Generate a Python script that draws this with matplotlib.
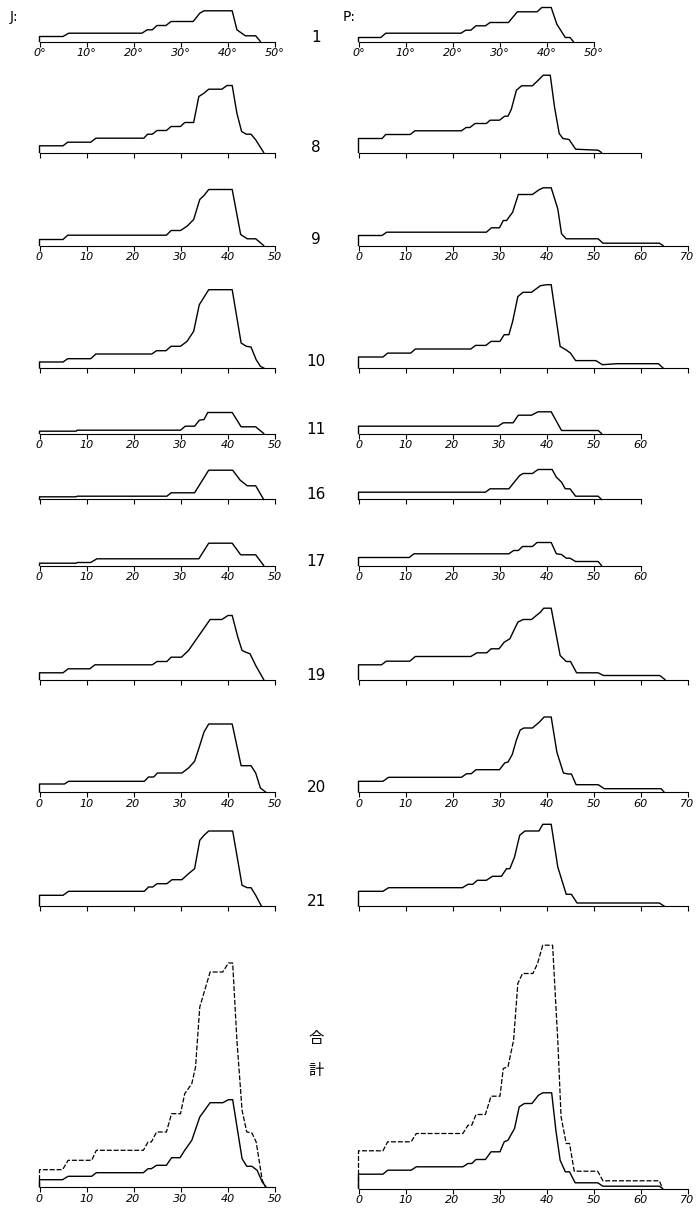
import numpy as np
import matplotlib
matplotlib.use("Agg")
import matplotlib.pyplot as plt

plt.rcParams['font.family'] = ['DejaVu Sans', 'Noto Sans CJK JP']

# ---- data: positions in degrees, heights in relative units ----
j1_x = [0, 5, 6.2, 21.8, 22.9, 24, 25, 26.9, 28, 32.7, 34.1, 35, 41, 42, 43.8, 46, 47]
j1_y = [5, 5, 8.3, 8.3, 11.7, 11.7, 16, 16, 20, 20, 28.3, 30.7, 30.7, 11.7, 5.7, 5.7, 0]
p1_x = [0, 4.75, 5.8, 21.8, 22.8, 23.9, 25, 27, 28, 31.9, 33.8, 38, 39, 41, 42.2, 44, 45, 45.7]
p1_y = [4, 4, 8.3, 8.3, 11.3, 11.3, 15.7, 15.7, 19, 19, 29.7, 29.7, 34, 34, 17.3, 4, 4, 0]

j8_x = [0, 5, 6, 10.9, 12, 22.2, 23, 24, 25, 27, 28, 30, 30.9, 32.8, 33.9, 35, 36, 38.8, 39.9, 41,
        42, 43, 44, 45, 46, 47.7]
j8_y = [6.7, 6.7, 10.3, 10.3, 14.3, 14.3, 18.3, 18.3, 22, 22, 26, 26, 30, 30, 56, 59.3, 63.3, 63.3,
        67, 67, 39.3, 21, 18.3, 18.3, 12.7, 0]
p8_x = [0, 5, 5.8, 11, 12, 21.9, 22.9, 23.7, 24.8, 27.2, 28, 30, 31.1, 31.8, 32.5, 33.6, 34.7, 37,
        38.4, 39.3, 40.8, 41.7, 42.7, 43.5, 44.8, 46.2, 51, 51.7]
p8_y = [14, 14, 18, 18, 21.7, 21.7, 25, 25, 29, 29, 32.3, 32.3, 36.3, 36.3, 43, 62.3, 66.7, 66.7,
        73, 77.3, 77.3, 45.7, 19, 14, 13, 3.3, 2.3, 0]

j9_x = [0, 5, 6, 27, 28, 30, 31.4, 32.8, 34.1, 35, 36, 41, 42.8, 44.2, 46, 47.7]
j9_y = [6, 6, 10.3, 10.3, 15, 15, 19.3, 26, 46, 50, 56, 56, 11, 6.7, 6.7, 0]
p9_x = [0, 5, 6, 27.2, 28.3, 30, 30.8, 31.5, 32.8, 34, 37, 38.4, 39.3, 41, 42.4, 43.2, 44.2, 51,
        52, 64, 64.8]
p9_y = [10, 10, 13.3, 13.3, 17.7, 17.7, 25, 25, 33.3, 51, 51, 55.7, 57.7, 57.7, 36.7, 11.7, 6.7,
        6.7, 2.3, 2.3, 0]

j10_x = [0, 5, 6, 10.9, 12, 23.9, 24.9, 26.9, 28, 30, 31.4, 32.8, 34, 34.9, 36, 41, 42.9, 44, 45,
         46.1, 47, 47.7]
j10_y = [6, 6, 9.3, 9.3, 14, 14, 17.3, 17.3, 21.7, 21.7, 26.7, 36.7, 63.3, 70, 78.3, 78.3, 25,
         21.7, 21, 8.3, 1.7, 0]
p10_x = [0, 5.2, 6.2, 11.1, 12.1, 23.9, 24.9, 27.1, 28.2, 30.1, 31, 32, 32.8, 33.9, 35, 36.8,
         38.7, 40.1, 41, 42.9, 44.1, 45.1, 46.2, 50.5, 51.9, 55, 63.8, 64.8]
p10_y = [11, 11, 14.9, 14.9, 19, 19, 22.6, 22.6, 26.6, 26.6, 33.3, 33.3, 46.6, 71.4, 75.7,
         75.7, 82.3, 83.3, 83.3, 21.6, 18.3, 14.9, 7.4, 7.4, 3.3, 4.3, 4.3, 0]

j11_x = [0, 7.8, 8, 30, 31, 33, 34, 35, 35.8, 41, 42.9, 46, 47.7]
j11_y = [2.3, 2.3, 3.3, 3.3, 7.3, 7.3, 13.3, 14, 21, 21, 6.7, 6.7, 0]
p11_x = [0, 29.7, 30.8, 32.9, 34, 36.8, 38.2, 41, 43.2, 51, 51.7]
p11_y = [7.3, 7.3, 10.7, 10.7, 18.3, 18.3, 21.7, 21.7, 3, 3, 0]

j16_x = [0, 7.8, 8, 27.1, 28, 33, 36, 41.1, 42.7, 44.2, 46, 47.7]
j16_y = [2.7, 2.7, 3.3, 3.3, 6.7, 6.7, 29.3, 29.3, 19.3, 13.7, 13.7, 0]
p16_x = [0, 27, 28, 32, 33.3, 34.3, 35, 37, 38.2, 41.2, 42.1, 43.2, 44, 45, 46.2, 51, 51.7]
p16_y = [7.3, 7.3, 10.7, 10.7, 18.3, 24, 26, 26, 30, 30, 22.3, 17.3, 10.7, 10.7, 3.3, 3.3, 0]

j17_x = [0, 7.8, 8, 10.9, 12.2, 33.9, 36, 41, 42.8, 46, 47.7]
j17_y = [2.3, 2.3, 3, 3, 6.7, 6.7, 22.3, 22.3, 10.7, 10.7, 0]
p17_x = [0, 10.8, 11.8, 32, 33, 34, 34.9, 37, 38, 41, 42.1, 43.2, 44.2, 45, 46.2, 51, 51.7]
p17_y = [8, 8, 11.7, 11.7, 15, 15, 19, 19, 23, 23, 11.7, 11, 7.3, 7.3, 4, 4, 0]

j19_x = [0, 5, 6.1, 10.7, 11.8, 24, 25, 27.1, 28, 30.2, 31.7, 36.3, 38.8, 40.1, 41, 42.2, 43.1,
         43.9, 44.8, 46, 47.7]
j19_y = [6.7, 6.7, 10.7, 10.7, 14.7, 14.7, 18, 18, 22.3, 22.3, 29, 60, 60, 64, 64, 42.3, 29, 27.3,
         25.7, 14, 0]
p19_x = [0, 4.9, 5.9, 10.9, 12.1, 23.9, 25.2, 27.3, 28.2, 29.9, 31, 32.2, 33.9, 35, 36.8, 38.7,
         39.4, 41, 42.9, 44.2, 45.1, 46.4, 51, 52.1, 64.1, 65.2]
p19_y = [14.7, 14.7, 18.3, 18.3, 23, 23, 26.7, 26.7, 30.7, 30.7, 37.3, 40.7, 57.3, 60, 60, 67.3,
         71.3, 71.3, 24, 18, 18, 6.7, 6.7, 4, 4, 0]

j20_x = [0, 5.3, 6.2, 22.3, 23.2, 24.3, 25.1, 30.3, 31.7, 33, 34, 35, 36, 41, 42.9, 45, 46, 47, 48.1]
j20_y = [8, 8, 10.7, 10.7, 15, 15, 19, 19, 24, 30.7, 45, 60, 68, 68, 26.3, 26.3, 19, 4, 0]
p20_x = [0, 5.2, 6.4, 21.9, 23, 24, 25, 30, 31.1, 31.8, 32.7, 33.6, 34.4, 35.2, 37, 38.5, 39.5, 41,
         42.2, 43.6, 44.6, 45.3, 46.3, 51, 52.3, 64.4, 65]
p20_y = [10.7, 10.7, 14.7, 14.7, 18.3, 18.3, 22.3, 22.3, 29, 30, 37.3, 52, 62, 64, 64, 70, 75, 75,
         40, 19, 18, 18, 7.3, 7.3, 3.3, 3.3, 0]

j21_x = [0, 5, 6.2, 22.3, 23.2, 24.1, 25, 27.1, 28.2, 30.3, 31.7, 33, 34.1, 35, 36, 41.1, 43.1,
         44.2, 45, 46, 47.2]
j21_y = [10.7, 10.7, 14.7, 14.7, 19, 19, 22.3, 22.3, 26.3, 26.3, 32.3, 37.3, 65.7, 70.7, 75, 75,
         20.7, 18.3, 18.3, 10.7, 0]
p21_x = [0, 5.2, 6.4, 22.1, 23.3, 24.3, 25.3, 27.2, 28.5, 30.4, 31.5, 32.2, 33.2, 34.3, 35.4,
         38.4, 39.2, 41, 42.4, 43.5, 44.2, 45.3, 46.5, 55.2, 64, 65]
p21_y = [14.7, 14.7, 18.3, 18.3, 21.7, 21.7, 25.7, 25.7, 29.7, 29.7, 37.3, 37.3, 49, 70.7, 75, 75,
         81.7, 81.7, 39, 22.3, 11.7, 11.7, 3, 3, 3, 0]

# 合計 (totals): dashed and solid curves
jt_dash_x = [0, 4.9, 6.1, 11.1, 12.1, 22.1, 23.1, 23.8, 24.9, 27, 28.1, 30, 30.9, 32.4, 33.2, 34.1,
             36.3, 39, 40.2, 41.1, 42, 43.1, 44.1, 45.2, 46.1, 47.4, 48.1]
jt_dash_y = [17.3, 17.3, 26.7, 26.7, 36.7, 36.7, 45, 45, 55, 55, 73.3, 73.3, 93.3, 103.3, 120, 180,
             215, 215, 224, 224, 146.7, 76.7, 55, 54, 45, 6.7, 0]
jt_solid_x = [0, 4.9, 6.1, 11.1, 12.1, 22.1, 23.1, 23.8, 24.9, 27, 28.1, 29.9, 30.9, 32.4, 34.1,
              36.3, 39, 40.2, 41.1, 43.1, 44.1, 45.2, 46.3, 47.4, 48.2]
jt_solid_y = [7.3, 7.3, 10.7, 10.7, 14.3, 14.3, 18.3, 18.3, 21.7, 21.7, 29.3, 29.3, 36.7, 46.7, 70,
              84.3, 84.3, 87.3, 87.3, 28.3, 20.7, 20.7, 16.7, 5, 0]
pt_dash_x = [0, 5.2, 6.2, 11.2, 12.3, 22.2, 23.3, 24.1, 25, 27, 28.2, 30.1, 30.8, 31.8, 33, 33.9,
             34.9, 37.1, 38.1, 39.2, 41.3, 42.4, 43.1, 44.2, 44.9, 45.9, 50.9, 52, 64, 64.7]
pt_dash_y = [37.7, 37.7, 46.7, 46.7, 55, 55, 63.3, 63.3, 74, 74, 92.3, 92.3, 120, 121.7, 148.3, 205,
             215, 215, 225, 243.3, 243.3, 148, 71.7, 45, 45, 17.3, 17.3, 7.7, 7.7, 0]
pt_solid_x = [0, 5.2, 6.2, 11.2, 12.3, 22.2, 23.3, 24.1, 25, 27, 28.2, 30.1, 31, 31.8, 33.2, 34.2,
              35.3, 36.9, 38.3, 39.2, 41.1, 42, 42.9, 44, 44.9, 46.1, 50.9, 52, 64, 64.7]
pt_solid_y = [14.3, 14.3, 18.3, 18.3, 21.7, 21.7, 25, 25, 29, 29, 36.7, 36.7, 46.7, 48.3, 60, 81.7,
              85, 85, 93.3, 95.7, 95.7, 58, 28.3, 16.7, 16.7, 5.7, 5.7, 2.3, 2.3, 0]

row_names = ['1', '8', '9', '10', '11', '16', '17', '19', '20', '21']
j_xmax = [50, 50, 50, 50, 50, 50, 50, 50, 50, 50]
p_xmax = [50, 60, 70, 70, 60, 60, 60, 70, 70, 70]

# ---- layout (pixels) ----
W, H = 700, 1213
PX_PER_DEG = 4.7
J_LEFT, P_LEFT = 39.5, 358.5
baselines = [41.5, 152.5, 245.5, 368, 433.5, 499.5, 565.5, 679.5, 792, 906]
label_y = [37, 147, 240, 362, 430, 495, 561, 675, 788, 902]
j_labeled = [True, False, True, False, True, False, True, False, True, False]
p_labeled = [True, False, True, False, True, False, True, False, True, False]

fig = plt.figure(figsize=(W / 100, H / 100), dpi=100)


def panel(left, base, xmax, curves, labels, deg=False):
    top = max(max(y) for _, y, _ in curves) + 3
    ax = fig.add_axes([left / W, (H - base) / H, xmax * PX_PER_DEG / W, top / H])
    for xs, ys, style in curves:
        kw = {'color': 'black', 'lw': 1.0, 'clip_on': False, 'solid_joinstyle': 'round'}
        kw.update(style)
        ax.plot(np.r_[0, xs], np.r_[0, ys], **kw)
    ax.set_xlim(0, xmax)
    ax.set_ylim(0, top)
    for s in ['left', 'right', 'top']:
        ax.spines[s].set_visible(False)
    ax.spines['bottom'].set_linewidth(0.8)
    ticks = list(range(0, xmax + 1, 10))
    ax.set_xticks(ticks)
    ax.set_yticks([])
    ax.tick_params(axis='x', direction='out', length=3.5, width=0.8, pad=1.2)
    if labels:
        txt = [f'{t}°' if deg else f'{t}' for t in ticks]
        ax.set_xticklabels(txt, fontsize=8, fontstyle='italic')
    else:
        ax.set_xticklabels([])
    ax.patch.set_visible(False)
    return ax


j_series = [(j1_x, j1_y), (j8_x, j8_y), (j9_x, j9_y), (j10_x, j10_y), (j11_x, j11_y),
            (j16_x, j16_y), (j17_x, j17_y), (j19_x, j19_y), (j20_x, j20_y), (j21_x, j21_y)]
p_series = [(p1_x, p1_y), (p8_x, p8_y), (p9_x, p9_y), (p10_x, p10_y), (p11_x, p11_y),
            (p16_x, p16_y), (p17_x, p17_y), (p19_x, p19_y), (p20_x, p20_y), (p21_x, p21_y)]

for i, name in enumerate(row_names):
    jx, jy = j_series[i]
    px, py = p_series[i]
    panel(J_LEFT, baselines[i], j_xmax[i], [(jx, jy, {})], j_labeled[i], deg=(i == 0))
    panel(P_LEFT, baselines[i], p_xmax[i], [(px, py, {})], p_labeled[i], deg=(i == 0))
    fig.text(316 / W, 1 - label_y[i] / H, name, fontsize=11, ha='center', va='center')

# totals
dash = {'linestyle': (0, (4, 1.5)), 'lw': 0.9}
panel(J_LEFT, 1187, 50, [(jt_dash_x, jt_dash_y, dash), (jt_solid_x, jt_solid_y, {})], True)
panel(P_LEFT, 1188.5, 70, [(pt_dash_x, pt_dash_y, dash), (pt_solid_x, pt_solid_y, {})], True)
fig.text(316 / W, 1 - 1038 / H, '合', fontsize=11, ha='center', va='center',
         family=['Noto Sans CJK JP'])
fig.text(316 / W, 1 - 1070 / H, '計', fontsize=11, ha='center', va='center',
         family=['Noto Sans CJK JP'])

fig.text(10 / W, 1 - 17 / H, 'J:', fontsize=10, ha='left', va='center')
fig.text(343 / W, 1 - 17 / H, 'P:', fontsize=10, ha='left', va='center')

fig.savefig('out.png', dpi=100)
